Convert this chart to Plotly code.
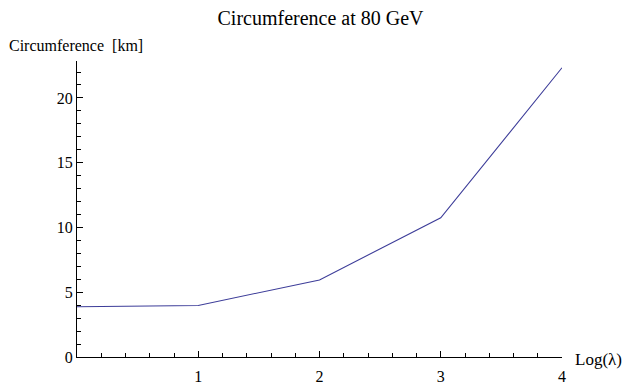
import plotly.graph_objects as go

# Ring circumference versus log of lambda at 80 GeV
log_lambda = [0, 1, 2, 3, 4]
circumference_km = [3.88, 3.98, 5.95, 10.75, 22.33]

x_ticks = [1, 2, 3, 4]
y_ticks = [0, 5, 10, 15, 20]

line_color = "#3D3D99"
axis_color = "#000000"
font_family = "'Liberation Serif', 'Times New Roman', Times, serif"

fig = go.Figure()
fig.add_trace(go.Scatter(
    x=log_lambda,
    y=circumference_km,
    mode="lines",
    line=dict(color=line_color, width=1.1),
    showlegend=False,
    hoverinfo="skip",
))

fig.update_layout(
    width=626,
    height=388,
    margin=dict(l=77, r=64, t=61, b=31),
    paper_bgcolor="white",
    plot_bgcolor="white",
    font=dict(family=font_family, size=16, color="black"),
    title=dict(
        text="Circumference at 80 GeV",
        x=0.512, xanchor="center",
        y=0.953, yanchor="middle",
        font=dict(family=font_family, size=20, color="black"),
    ),
)

fig.update_xaxes(
    range=[0, 4],
    tickvals=x_ticks,
    ticktext=[str(v) for v in x_ticks],
    ticks="inside",
    ticklen=6,
    tickwidth=1,
    tickcolor=axis_color,
    ticklabelstandoff=5,
    automargin=False,
    minor=dict(dtick=0.2, tick0=0, ticks="inside", ticklen=4, tickcolor=axis_color, tickwidth=1),
    showline=True,
    linecolor=axis_color,
    linewidth=1,
    showgrid=False,
    zeroline=False,
    tickfont=dict(family=font_family, size=16),
)

fig.update_yaxes(
    range=[0, 22.85],
    tickvals=y_ticks,
    ticktext=[str(v) for v in y_ticks],
    ticks="inside",
    ticklen=6,
    tickwidth=1,
    tickcolor=axis_color,
    automargin=False,
    minor=dict(dtick=1, tick0=0, ticks="inside", ticklen=4, tickcolor=axis_color, tickwidth=1),
    showline=True,
    linecolor=axis_color,
    linewidth=1,
    showgrid=False,
    zeroline=False,
    tickfont=dict(family=font_family, size=16),
)

# Axis labels placed at the axis ends
fig.add_annotation(
    text="Circumference  [km]",
    xref="paper", yref="paper",
    x=-0.145, y=1.0, xanchor="left", yanchor="middle",
    yshift=16,
    showarrow=False,
    font=dict(family=font_family, size=16, color="black"),
)
fig.add_annotation(
    text="Log(λ)",
    xref="paper", yref="paper",
    x=1.0, y=0.0, xanchor="left", yanchor="middle",
    xshift=11, yshift=-2,
    showarrow=False,
    font=dict(family=font_family, size=17, color="black"),
)

fig.write_html("out.html")
